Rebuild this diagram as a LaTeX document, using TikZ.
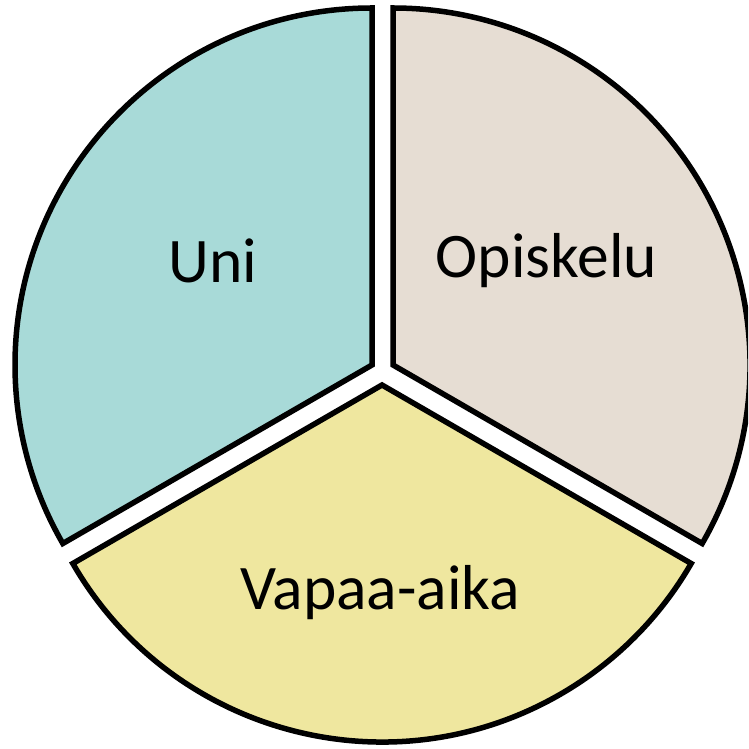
\documentclass[tikz,border=0pt]{standalone}
\usepackage{fontspec}
\setmainfont{Carlito}
\definecolor{sleepfill}{RGB}{168,218,216}
\definecolor{studyfill}{RGB}{230,221,211}
\definecolor{freefill}{RGB}{239,231,159}
\tikzset{
  slice/.style={draw=black, line width=5.5pt, line join=miter},
  label/.style={font=\fontsize{63.5}{70}\selectfont, anchor=base, inner sep=0pt}
}
\begin{document}
\begin{tikzpicture}[x=1pt,y=1pt]
  \useasboundingbox (0,0) rectangle (748,749);
  \clip (0,0) rectangle (748,749);
  % three exploded 120-degree sectors
  \filldraw[slice, fill=sleepfill] (372,384) -- ++(90:357)
    arc[start angle=90, end angle=210, radius=357] -- cycle;
  \filldraw[slice, fill=studyfill] (393,384) -- ++(-30:357)
    arc[start angle=-30, end angle=90, radius=357] -- cycle;
  \filldraw[slice, fill=freefill] (382,364) -- ++(210:357)
    arc[start angle=210, end angle=330, radius=357] -- cycle;
  % sector labels
  \node[label] (uni) at (213,466) {Uni};
  \node[label] (opiskelu) at (546.5,471) {Opiskelu};
  \node[label] (vapaa) at (380,139) {Vapaa-aika};
\end{tikzpicture}
\end{document}
